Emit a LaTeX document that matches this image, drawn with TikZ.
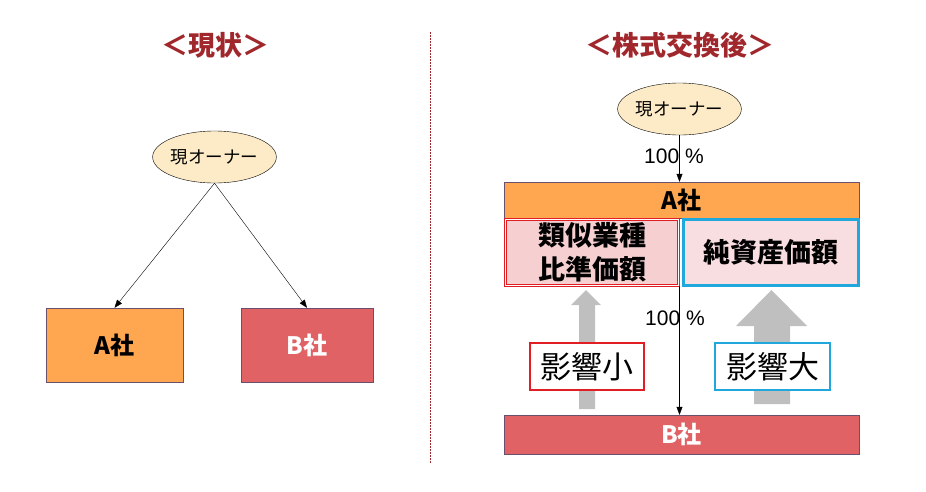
\documentclass[tikz,border=0pt]{standalone}
\usepackage{fontspec}
\setmainfont{Noto Sans CJK JP}
\newfontfamily\latinfont{Liberation Sans}
\usetikzlibrary{positioning,shapes,arrows.meta}

\definecolor{titlered}{RGB}{160,40,45}
\definecolor{ownerfill}{RGB}{253,235,199}
\definecolor{aorange}{RGB}{255,166,80}
\definecolor{bred}{RGB}{224,98,100}
\definecolor{boxline}{RGB}{106,80,110}
\definecolor{simfill}{RGB}{246,208,208}
\definecolor{netfill}{RGB}{249,222,225}
\definecolor{kred}{RGB}{224,30,36}
\definecolor{kcyan}{RGB}{32,168,220}
\definecolor{arrowgray}{RGB}{191,191,191}

\tikzset{
  title/.style={text=titlered, font=\fontsize{27}{30}\selectfont\bfseries},
  owner/.style={ellipse, draw, fill=ownerfill, minimum width=105pt, minimum height=52pt, inner sep=0pt, font=\fontsize{17.5}{19}\selectfont},
  company/.style={draw=boxline, inner sep=0pt, font=\fontsize{24}{26}\selectfont\bfseries},
  valuebox/.style={inner sep=0pt, align=center, font=\fontsize{27}{34}\selectfont\bfseries},
  effectbox/.style={fill=white, line width=2.5pt, inner sep=0pt, minimum width=114pt, minimum height=47pt, font=\fontsize{31}{33}\selectfont},
  share/.style={-{Triangle[length=8pt,width=6pt]}},
  pct/.style={font=\latinfont\fontsize{21}{23}\selectfont},
}

\begin{document}
\begin{tikzpicture}[x=1pt, y=-1pt]
	\useasboundingbox (0,0) rectangle (926,491);
	% left side
	\node [title] (titleL) at (215,45) {＜現状＞};
	\node [owner] (ownL) at (214.5,157) {現オーナー};
	\node [company, fill=aorange, minimum width=137pt, minimum height=74pt] (aL) at (114.5,345) {A社};
	\node [company, fill=bred, text=white, minimum width=132pt, minimum height=74pt] (bL) at (307,345) {B社};
	\draw [share] (ownL.south) -- (aL.north);
	\draw [share] (ownL.south) -- (bL.north);
	% separator
	\coordinate (sepTop) at (430,32);
	\coordinate (sepBot) at (430,463);
	\draw [titlered, dashed, dash pattern=on 1.5pt off 1.5pt, line width=0.7pt] (sepTop) -- (sepBot);
	% right side
	\node [title] (titleR) at (680,45) {＜株式交換後＞};
	\node [owner] (ownR) at (679.5,109) {現オーナー};
	\node [company, fill=aorange, minimum width=355pt, minimum height=36pt] (aR) at (681.5,200) {A社};
	\node [company, fill=bred, text=white, minimum width=355pt, minimum height=39pt] (bR) at (681.5,434.5) {B社};
	\node [valuebox, fill=simfill, draw=kred, double=white, double distance=1.2pt, line width=0.8pt, minimum width=173pt, minimum height=66pt] (simA) at (592,252.5) {類似業種\\比準価額};
	\node [valuebox, fill=netfill, draw=kcyan, line width=3pt, minimum width=175pt, minimum height=66pt] (netA) at (771,252.5) {純資産価額};
	\draw [share] (ownR.south) -- (ownR.south |- aR.north);
	\node [pct] (pctTop) at (674,156) {100 \%};
	\draw [share] (ownR.south |- simA.south) -- (ownR.south |- bR.north);
	\node [pct] (pctMid) at (675,318) {100 \%};
	% gray arrows
	\fill [arrowgray] (579,409) -- (579,305) -- (571,305) -- (586,290) -- (601,305) -- (595,305) -- (595,409) -- cycle;
	\fill [arrowgray] (754,404) -- (754,326) -- (736,326) -- (771.5,290) -- (807,326) -- (790,326) -- (790,404) -- cycle;
	\node [effectbox, draw=kred] (small) at (587,366.5) {影響小};
	\node [effectbox, draw=kcyan, minimum width=115pt] (large) at (772.5,366.5) {影響大};
\end{tikzpicture}
\end{document}
